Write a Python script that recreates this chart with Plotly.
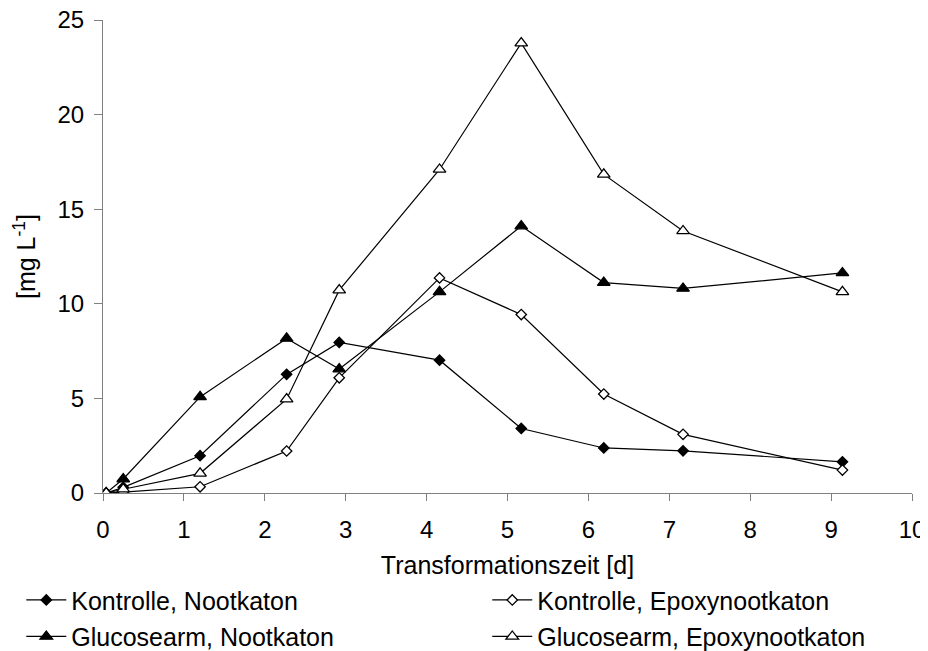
import plotly.graph_objects as go

days = [0.04, 0.25, 1.2, 2.27, 2.92, 4.16, 5.17, 6.19, 7.17, 9.14]
kontrolle_nootkaton = [0.0, 0.3, 1.97, 6.27, 7.96, 7.02, 3.41, 2.38, 2.23, 1.65]
kontrolle_epoxy = [0.0, 0.05, 0.33, 2.22, 6.09, 11.37, 9.43, 5.23, 3.1, 1.21]
glucose_nootkaton = [0.0, 0.74, 5.08, 8.17, 6.55, 10.63, 14.11, 11.12, 10.81, 11.63]
glucose_epoxy = [0.0, 0.2, 1.04, 4.96, 10.72, 17.1, 23.78, 16.84, 13.85, 10.63]

# name, values, symbol, fill, size, legend column
series = [
    ("Kontrolle, Nootkaton", kontrolle_nootkaton, "diamond", "black", 8, "legend"),
    ("Kontrolle, Epoxynootkaton", kontrolle_epoxy, "diamond", "white", 8, "legend2"),
    ("Glucosearm, Nootkaton", glucose_nootkaton, "triangle-up", "black", 11, "legend"),
    ("Glucosearm, Epoxynootkaton", glucose_epoxy, "triangle-up", "white", 11, "legend2"),
]

FONT = "Liberation Sans, Arial, sans-serif"
FS = 25
TFS = 24

fig = go.Figure()
for i, (name, vals, sym, fill, size, leg) in enumerate(series):
    fig.add_trace(go.Scatter(
        x=days, y=vals, name=name, mode="lines+markers",
        legend=leg, legendgroup=f"g{i}",
        line=dict(color="black", width=1.2),
        marker=dict(symbol=sym, size=size, color=fill,
                    line=dict(color="black", width=1.3)),
    ))

leg_common = dict(
    orientation="v", yanchor="top", xanchor="left",
    font=dict(family=FONT, size=FS, color="black"),
    tracegroupgap=1, itemwidth=40, bgcolor="rgba(0,0,0,0)",
    borderwidth=0,
)

# page body has an 8px margin, so the figure is sized to fit inside the window
fig.update_layout(
    width=920, height=643,
    paper_bgcolor="white", plot_bgcolor="white",
    margin=dict(l=95, r=16, t=12, b=158, autoexpand=False),
    font=dict(family=FONT, size=FS, color="black"),
    showlegend=True,
    legend=dict(x=-0.101, y=-0.178, **leg_common),
    legend2=dict(x=0.475, y=-0.178, **leg_common),
    xaxis=dict(
        range=[0, 10], dtick=1, tick0=0,
        showline=True, linecolor="#808080", linewidth=1,
        ticks="outside", ticklen=7, tickcolor="#808080",
        showgrid=False, zeroline=False, automargin=False,
        ticklabelstandoff=8, ticklabeloverflow="allow",
        tickfont=dict(size=TFS),
        title=dict(text="Transformationszeit [d]", font=dict(size=FS), standoff=14),
    ),
    yaxis=dict(
        range=[0, 25], dtick=5, tick0=0,
        showline=True, linecolor="#808080", linewidth=1,
        ticks="outside", ticklen=8, tickcolor="#808080",
        showgrid=False, zeroline=False, automargin=False,
        ticklabelstandoff=5, ticklabeloverflow="allow",
        tickfont=dict(size=TFS),
        title=dict(text="[mg L<sup>-1</sup>]", font=dict(size=FS), standoff=14),
    ),
)

fig.write_html("out.html")
